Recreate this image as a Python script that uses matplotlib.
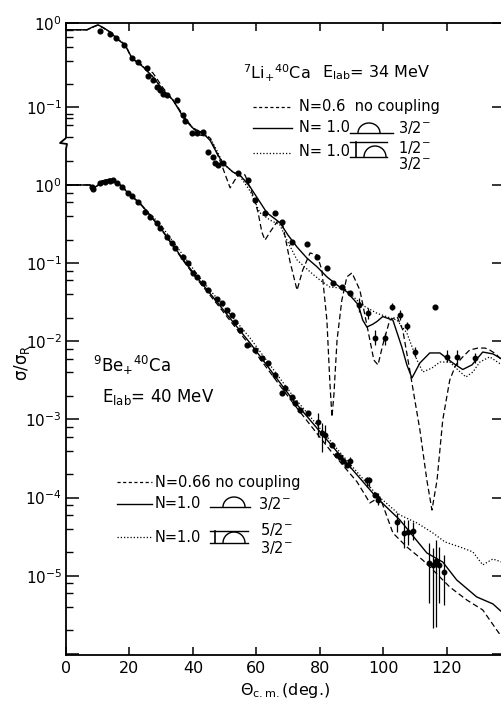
import matplotlib
matplotlib.use("Agg")
import matplotlib.pyplot as plt
from matplotlib.lines import Line2D
from matplotlib.patches import Arc
from matplotlib.ticker import FixedLocator, FixedFormatter, NullFormatter

plt.rcParams["font.family"] = ["DejaVu Sans"]
plt.rcParams["mathtext.default"] = "regular"

# ---- 7Li + 40Ca, E = 34 MeV (upper scale) ----
li_solid_x = [0.3, 6.6, 8.5, 10.1, 12.0, 13.9, 16.4, 18.6, 20.8, 24.3, 27.4, 30.6, 33.7, 37.5, 40.0,
              43.1, 45.4, 47.6, 49.4, 52.6, 54.8, 58.0, 63.3, 67.4, 69.9, 72.8, 75.9, 79.1, 82.2, 85.4,
              88.5, 91.7, 92.6, 93.5, 94.8, 96.7, 98.0, 99.8, 103.0, 105.8, 107.4, 109.0, 111.5, 114.6,
              117.8, 121.9, 125.0, 127.9, 131.3, 134.5, 137.3]
li_solid_y = [0.83, 0.83, 0.90, 0.95, 0.87, 0.78, 0.63, 0.55, 0.38, 0.30, 0.228, 0.159, 0.121, 0.070,
              0.056, 0.049, 0.040, 0.028, 0.0215, 0.0168, 0.0155, 0.0112, 0.0055, 0.0042, 0.0030,
              0.00215, 0.00159, 0.00125, 0.00095, 0.00076, 0.00063, 0.00046, 0.00038, 0.00029, 0.00024,
              0.00026, 0.00028, 0.00032, 0.00029, 0.000139, 0.000085, 0.0000594, 0.0000896, 0.000118,
              0.000118, 0.0000896, 0.000075, 0.000085, 0.000121, 0.000115, 0.0001]

li_dash_x = [0.3, 6.6, 10.1, 13.9, 18.6, 20.8, 24.3, 27.4, 30.6, 33.7, 37.5, 40.0, 42.2, 43.8, 45.4,
             47.6, 49.4, 51.7, 53.2, 54.8, 56.4, 58.9, 60.5, 61.7, 62.7, 64.3, 66.5, 68.3, 70.6, 72.8,
             74.6, 76.9, 79.1, 80.6, 82.2, 83.1, 83.8, 84.4, 85.4, 86.9, 88.5, 90.1, 92.6, 95.1, 97.0,
             98.3, 99.8, 102.0, 104.3, 106.1, 108.3, 111.5, 113.7, 115.3, 116.9, 118.7, 120.9, 122.8,
             125.0, 127.2, 129.8, 132.0, 133.5, 135.4, 137.3]
li_dash_y = [0.83, 0.83, 0.95, 0.78, 0.55, 0.38, 0.308, 0.254, 0.168, 0.121, 0.074, 0.056, 0.0464,
             0.0451, 0.0428, 0.028, 0.0188, 0.0109, 0.0135, 0.0164, 0.0155, 0.00896, 0.0056, 0.00325,
             0.0026, 0.00325, 0.0043, 0.00394, 0.00143, 0.00066, 0.00115, 0.00183, 0.00173, 0.00115,
             0.00029, 0.000056, 0.0000204, 0.0000373, 0.000168, 0.0005, 0.00095, 0.00106, 0.00066,
             0.000222, 0.000097, 0.000085, 0.000147, 0.00029, 0.00032, 0.000222, 0.000074, 0.0000143,
             3.6e-6, 1.59e-6, 3.6e-6, 0.0000188, 0.000056, 0.000085, 0.000106, 0.000128, 0.000135,
             0.000135, 0.000128, 0.000115, 0.000097]

li_dot_x = [0.3, 6.6, 10.1, 13.9, 18.6, 20.8, 24.3, 27.4, 30.6, 33.7, 37.5, 40.0, 43.1, 45.4, 47.6,
            49.4, 52.6, 54.8, 58.0, 61.1, 64.3, 67.4, 69.6, 72.8, 76.9, 80.0, 83.1, 86.3, 88.5, 91.7,
            94.2, 98.0, 102.0, 104.3, 107.4, 110.6, 112.4, 115.3, 117.8, 120.9, 123.5, 126.0, 128.2,
            130.4, 133.5, 137.3]
li_dot_y = [0.83, 0.83, 0.95, 0.78, 0.55, 0.38, 0.30, 0.228, 0.159, 0.121, 0.072, 0.056, 0.049, 0.043,
            0.030, 0.0215, 0.0168, 0.0150, 0.0100, 0.0055, 0.0045, 0.00394, 0.0026, 0.00151, 0.00109,
            0.00087, 0.00072, 0.0007, 0.00066, 0.0005, 0.00042, 0.00035, 0.00031, 0.00029, 0.000204,
            0.000097, 0.000070, 0.000078, 0.000092, 0.000092, 0.000074, 0.000061, 0.000070, 0.000092,
            0.000106, 0.000085]

li_pts_x = [10.7, 13.9, 15.7, 18.3, 20.8, 22.7, 25.5, 25.8, 27.4, 28.7, 29.6, 30.6, 31.8, 35.0, 36.9,
            37.5, 39.7, 41.3, 43.1, 44.7, 46.3, 46.9, 47.9, 49.4, 54.2, 57.3, 59.5, 62.7, 65.8, 68.0,
            71.2, 75.9, 79.1, 82.2, 84.1, 86.9, 89.4, 116.2]
li_pts_y = [0.80, 0.74, 0.66, 0.55, 0.38, 0.34, 0.29, 0.234, 0.21, 0.173, 0.159, 0.143, 0.139, 0.121,
            0.080, 0.068, 0.049, 0.049, 0.050, 0.029, 0.0254, 0.0215, 0.0204, 0.0215, 0.0164, 0.0135,
            0.0078, 0.0055, 0.0055, 0.0043, 0.00247, 0.00234, 0.00164, 0.00121, 0.00080, 0.00072,
            0.00061, 0.00042]

li_bar_x = [92.3, 95.1, 97.3, 100.5, 102.7, 105.2, 107.4, 109.9, 120.0, 123.1, 128.8]
li_bar_y = [0.00044, 0.00035, 0.00018, 0.00018, 0.00042, 0.00033, 0.00025, 0.000121, 0.000106,
            0.000106, 0.000103]
li_bar_lo = [0.000363, 0.00030, 0.000147, 0.000147, 0.000383, 0.000291, 0.000221, 0.000106, 0.000092,
             0.000085, 0.0000896]
li_bar_hi = [0.000532, 0.00041, 0.000221, 0.000204, 0.000464, 0.000383, 0.000276, 0.000139, 0.000128,
             0.000128, 0.000118]

# ---- 9Be + 40Ca, E = 40 MeV (lower scale) ----
be_solid_x = [0.3, 7.6, 8.5, 9.8, 11.3, 13.9, 16.4, 20.2, 23.3, 29.6, 37.5, 42.2, 47.6, 52.6, 58.0,
              71.5, 86.3, 98.0, 105.2, 113.7, 118.7, 123.1, 129.4, 134.5, 137.3]
be_solid_y = [1.0, 1.0, 0.915, 0.97, 1.125, 1.19, 1.061, 0.745, 0.588, 0.29, 0.1035, 0.059, 0.0318,
              0.0177, 0.0095, 0.00178, 0.00035, 0.000099, 0.0000518, 0.0000196, 0.000015, 0.00000885,
              0.00000537, 0.00000437, 0.00000345]

be_dash_x = [0.3, 7.6, 8.5, 9.8, 11.3, 13.9, 16.4, 20.2, 23.3, 29.6, 37.5, 42.2, 47.6, 52.6, 58.0,
             71.5, 83.1, 91.7, 94.8, 95.7, 98.9, 103.0, 107.4, 112.4, 115.6, 120.9, 126.3, 131.3,
             135.7, 137.3]
be_dash_y = [1.0, 1.0, 0.915, 0.97, 1.125, 1.19, 1.061, 0.745, 0.58, 0.285, 0.10, 0.056, 0.030, 0.0165,
             0.0088, 0.00163, 0.00041, 0.000159, 0.000099, 0.0000855, 0.000102, 0.0000353, 0.0000234,
             0.0000159, 0.0000119, 0.0000072, 0.0000049, 0.00000366, 0.00000203, 0.00000165]

be_dot_x = [0.3, 7.6, 8.5, 9.8, 11.3, 13.9, 16.4, 20.2, 29.6, 42.2, 58.0, 71.5, 86.3, 98.0, 105.2,
            110.6, 115.6, 119.4, 124.1, 128.2, 131.3, 134.5, 137.3]
be_dot_y = [1.0, 1.0, 0.915, 0.97, 1.125, 1.19, 1.061, 0.767, 0.317, 0.0646, 0.011, 0.002, 0.00038,
            0.000108, 0.000060, 0.0000474, 0.0000353, 0.0000271, 0.0000234, 0.0000202, 0.0000138,
            0.0000164, 0.000015]

be_pts_x = [8.2, 8.5, 10.7, 12.3, 13.9, 14.8, 16.1, 17.6, 19.5, 20.8, 22.7, 24.9, 26.5, 28.7, 29.6,
            31.8, 33.4, 34.3, 36.9, 38.4, 40.0, 41.3, 43.1, 44.7, 47.6, 49.1, 50.7, 52.3, 53.2, 54.8,
            57.0, 59.5, 61.7, 63.6, 65.8, 68.0, 69.0, 71.2, 72.1, 73.7, 76.2, 83.8, 85.4, 86.3, 87.2,
            88.5, 97.3]
be_pts_y = [0.943, 0.889, 1.061, 1.093, 1.125, 1.16, 1.061, 0.943, 0.79, 0.723, 0.606, 0.451, 0.390,
            0.327, 0.282, 0.216, 0.181, 0.156, 0.120, 0.1005, 0.0748, 0.0665, 0.0557, 0.0454, 0.0348,
            0.0309, 0.0251, 0.0217, 0.0177, 0.014, 0.00898, 0.00775, 0.00612, 0.00528, 0.00371,
            0.00218, 0.00253, 0.00194, 0.00163, 0.00132, 0.00121, 0.00047, 0.00035, 0.00033, 0.00029,
            0.00026, 0.000108]

be_bar_x = [79.4, 80.6, 81.6, 89.4, 94.8, 95.4, 98.3, 104.3, 106.5, 107.7, 109.3, 114.3, 115.6, 116.5,
            117.5, 119.1]
be_bar_y = [0.00093, 0.00067, 0.00063, 0.00029, 0.000168, 0.000168, 0.0000934, 4.89e-5, 3.53e-5,
            3.64e-5, 3.75e-5, 1.46e-5, 1.38e-5, 1.55e-5, 1.38e-5, 1.12e-5]
be_bar_lo = [0.0006, 0.000384, 0.0005, 0.00024, 0.000137, 0.000137, 0.0000806, 3.6e-5, 2.27e-5,
             2.48e-5, 2.88e-5, 4.5e-6, 2.15e-6, 2.2e-6, 4.5e-6, 4.24e-6]
be_bar_hi = [0.00121, 0.0009, 0.00085, 0.00033, 0.000184, 0.000184, 0.000115, 6.4e-5, 5.2e-5, 5.2e-5,
             4.89e-5, 2.63e-5, 2.27e-5, 2.88e-5, 2.34e-5, 1.85e-5]

x_ticks = [0, 20, 40, 60, 80, 100, 120]
be_major = [1, 1e-1, 1e-2, 1e-3, 1e-4, 1e-5, 1e-6]
be_major_labels = ["$10^{0}$", "$10^{-1}$", "$10^{-2}$", "$10^{-3}$", "$10^{-4}$", "$10^{-5}$", ""]
be_minor = [2] + [m * 10.0 ** -d for d in range(0, 6) for m in (0.8, 0.6, 0.4, 0.2)]
li_major = [1, 0.1]
li_major_labels = ["$10^{0}$", "$10^{-1}$"]
li_minor = [0.82, 0.68, 0.52, 0.35, 0.19, 0.083, 0.074, 0.061, 0.044]

W, H = 502, 701
fig = plt.figure(figsize=(W / 100, H / 100), dpi=100)


def fp(x, y):
    return x / W, 1 - y / H


rect = [66 / W, 1 - 655 / H, 438 / W, 632 / H]
ax = fig.add_axes(rect)
ax.set_xlim(0, 138)
ax.set_yscale("log")
ax.set_ylim(10 ** -6.013, 10 ** 2.072)

ax_li = fig.add_axes(rect)
ax_li.patch.set_visible(False)
ax_li.set_xlim(0, 138)
ax_li.set_yscale("log")
ax_li.set_ylim(10 ** -7.524, 1)
for s in ax_li.spines.values():
    s.set_visible(False)

solid_kw = dict(color="black", lw=1.0)
dash_kw = dict(color="black", lw=0.9, linestyle=(0, (4.5, 2.5)))
dot_kw = dict(color="black", lw=0.9, linestyle=(0, (1, 1.6)))

ax_li.plot(li_dash_x, li_dash_y, **dash_kw)
ax_li.plot(li_dot_x, li_dot_y, **dot_kw)
ax_li.plot(li_solid_x, li_solid_y, **solid_kw)
ax_li.plot(li_pts_x, li_pts_y, "o", color="black", ms=3.4)
ax_li.vlines(li_bar_x, li_bar_lo, li_bar_hi, color="black", lw=0.9)
ax_li.plot(li_bar_x, li_bar_y, "o", color="black", ms=3.2)

ax.plot(be_dash_x, be_dash_y, **dash_kw)
ax.plot(be_dot_x, be_dot_y, **dot_kw)
ax.plot(be_solid_x, be_solid_y, **solid_kw)
ax.plot(be_pts_x, be_pts_y, "o", color="black", ms=3.4)
ax.vlines(be_bar_x, be_bar_lo, be_bar_hi, color="black", lw=0.9)
ax.plot(be_bar_x, be_bar_y, "o", color="black", ms=3.2)

# axes / ticks
for s in ("top", "bottom", "right"):
    ax.spines[s].set_linewidth(1.3)
ax.spines["left"].set_visible(False)
ax.set_xticks(x_ticks)
ax.tick_params(axis="x", which="major", direction="in", top=True, length=6, width=1.1,
               labelsize=11.5, pad=4)
ax.yaxis.set_major_locator(FixedLocator(be_major))
ax.yaxis.set_major_formatter(FixedFormatter(be_major_labels))
ax.yaxis.set_minor_locator(FixedLocator(be_minor))
ax.yaxis.set_minor_formatter(NullFormatter())
ax.tick_params(axis="y", which="major", direction="in", left=True, right=True, length=9, width=1.1,
               labelsize=11, pad=3)
ax.tick_params(axis="y", which="minor", direction="in", left=True, right=False, length=5, width=1.0)

ax_li.tick_params(axis="x", which="both", bottom=False, top=False, labelbottom=False)
ax_li.yaxis.set_major_locator(FixedLocator(li_major))
ax_li.yaxis.set_major_formatter(FixedFormatter(li_major_labels))
ax_li.yaxis.set_minor_locator(FixedLocator(li_minor))
ax_li.yaxis.set_minor_formatter(NullFormatter())
ax_li.tick_params(axis="y", which="major", direction="in", left=True, right=True, length=9, width=1.1,
                  labelsize=11, pad=3)
ax_li.tick_params(axis="y", which="minor", direction="in", left=True, right=False, length=5, width=1.0)

# left spine with axis break
spine_px = [(66, 23), (66, 138), (60, 143), (67, 144), (66, 149), (66, 655)]
fig.add_artist(Line2D([fp(*p)[0] for p in spine_px], [fp(*p)[1] for p in spine_px],
                      transform=fig.transFigure, color="black", lw=1.3))


def seg(x0, x1, y, **kw):
    fig.add_artist(Line2D([x0 / W, x1 / W], [1 - y / H, 1 - y / H], transform=fig.transFigure,
                          color="black", **kw))


def dome(cx, base, hw=11, h=10):
    fig.add_artist(Arc(fp(cx, base), 2 * hw / W, 2 * h / H, theta1=0, theta2=180,
                       transform=fig.transFigure, color="black", lw=1.0))


def single_level(x0, x1, base, cx):
    seg(x0, x1, base, lw=1.0)
    dome(cx, base)


def double_level(x0, x1, top, base, cx, ix):
    seg(x0, x1, top, lw=1.0)
    seg(x0, x1, base, lw=1.0)
    fig.add_artist(Line2D([ix / W, ix / W], [1 - top / H, 1 - base / H], transform=fig.transFigure,
                          color="black", lw=1.2))
    dome(cx, base, h=11)


def txt(x, y, s, size=10.5, ha="left"):
    fig.text(x / W, 1 - y / H, s, ha=ha, va="center", fontsize=size)


# upper panel annotations
txt(243, 73, "$^{7}$Li$_{+}$$^{40}$Ca", 11.5)
txt(322, 73, "E$_{lab}$= 34 MeV", 11.5)
seg(253, 292, 107, lw=0.9, linestyle=(0, (2.5, 2)))
seg(253, 292, 128, lw=1.0)
seg(253, 292, 153, lw=0.9, linestyle=(0, (1, 1.6)))
txt(299, 107, "N=0.6  no coupling")
txt(299, 128, "N= 1.0")
txt(299, 152, "N= 1.0")
single_level(350, 393, 133, 369)
double_level(350, 387, 142, 157, 375, 356)
txt(398, 127, "3/2$^{-}$")
txt(398, 147, "1/2$^{-}$")
txt(398, 163, "3/2$^{-}$")

# lower panel annotations
txt(93, 365, "$^{9}$Be$_{+}$$^{40}$Ca", 12)
txt(102, 397, "E$_{lab}$= 40 MeV", 12)
seg(117, 152, 482, lw=0.9, linestyle=(0, (2.5, 2)))
seg(117, 152, 504, lw=1.0)
seg(117, 152, 537, lw=0.9, linestyle=(0, (1, 1.6)))
txt(155, 482, "N=0.66 no coupling")
txt(155, 504, "N=1.0")
txt(155, 537, "N=1.0")
single_level(210, 250, 507, 234)
double_level(210, 248, 531, 543, 234, 215)
txt(258, 503, "3/2$^{-}$")
txt(260, 530, "5/2$^{-}$")
txt(260, 547, "3/2$^{-}$")

fig.text(22 / W, 1 - 363 / H, r"$\sigma/\sigma_R$", rotation=90, ha="center", va="center",
         fontsize=12)
fig.text(285 / W, 1 - 691 / H, r"$\Theta_{c.m.}$(deg.)", ha="center", va="center", fontsize=11.5)

fig.savefig("out.png", dpi=100)
